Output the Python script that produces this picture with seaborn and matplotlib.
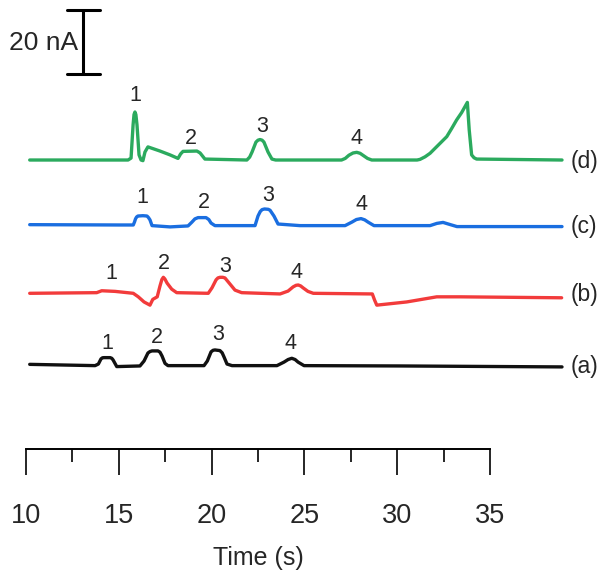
import matplotlib
matplotlib.use("Agg")
import matplotlib.pyplot as plt
import numpy as np
import pandas as pd
import seaborn as sns

# time (s) and current change (nA), relative to its baseline
time_d = [10.2, 15.5, 15.66, 15.77, 15.82, 15.87, 15.92, 15.98, 16.09, 16.2, 16.3, 16.41,
          16.57, 17.22, 17.76, 18.19, 18.33, 18.46, 19.21, 19.38, 19.64, 21.9, 22.05, 22.18,
          22.39, 22.5, 22.61, 22.72, 22.82, 23.04, 23.25, 23.45, 27.0, 27.2, 27.4, 27.62,
          27.82, 28.0, 28.2, 28.4, 28.63, 31.07, 31.23, 31.5, 31.77, 32.22, 32.67, 32.94,
          33.2, 33.47, 33.78, 33.88, 34.01, 34.14, 34.28, 38.88]
curr_d = [0, 0, 0.6, 11, 14.2, 15, 14.2, 11, 1.6, 0, -0.2, 2.5,
          4.1, 2.8, 1.6, 0.5, 1.9, 2.7, 2.8, 2.2, 0.3, 0, 0.9, 2.5,
          5.6, 6.2, 6.4, 6.2, 5.6, 2.5, 0.3, 0, 0, 0.5, 1.5, 2.2,
          2.4, 2.1, 1.3, 0.5, 0, 0, 0.2, 1.0, 2.1, 4.7, 7.3, 9.9,
          12.5, 14.8, 18, 9.4, 1.6, 0.7, 0.3, 0]

time_c = [10.2, 15.0, 15.78, 15.85, 15.9, 15.96, 16.03, 16.3, 16.52, 16.6, 16.68, 16.79,
          17.76, 18.73, 18.94, 19.1, 19.27, 19.7, 19.85, 19.97, 20.18, 22.34, 22.5, 22.62,
          22.72, 22.85, 23.05, 23.15, 23.36, 23.58, 24.76, 27.19, 27.56, 27.8, 28.05, 28.25,
          28.43, 28.75, 31.77, 32.14, 32.47, 32.84, 33.22, 38.88]
curr_c = [0.1, 0, 0, 1.0, 1.9, 2.5, 2.8, 2.9, 2.8, 2.3, 1.6, -0.2,
          -0.6, -0.3, 0.9, 1.9, 2.3, 2.3, 1.7, 0.6, -0.2, -0.2, 2.8, 4.2,
          4.8, 5.0, 4.9, 4.6, 2.8, 0.3, -0.2, -0.2, 0.9, 1.7, 2.0, 1.6,
          0.9, -0.2, -0.2, 0.5, 0.8, 0.15, -0.5, -0.5]

time_b = [10.2, 13.81, 14.08, 14.8, 15.78, 16.05, 16.36, 16.68, 16.83, 17.07, 17.22, 17.32,
          17.4, 17.48, 17.6, 17.85, 18.12, 19.82, 20.02, 20.24, 20.34, 20.45, 20.6, 20.72,
          20.99, 21.26, 21.62, 23.69, 24.12, 24.39, 24.55, 24.67, 24.8, 24.93, 25.19, 25.48,
          28.66, 28.78, 28.9, 30.51, 32.13, 33.38, 38.86]
curr_b = [-0.1, 0.1, 0.7, 0.5, -0.1, -1.2, -2.8, -3.8, -2.0, -1.2, 2.2, 4.2,
          4.9, 4.4, 3.1, 1.2, 0.1, -0.1, 1.6, 4.1, 4.7, 4.9, 4.9, 4.7,
          2.8, 0.9, 0.1, -0.3, 0.6, 1.9, 2.4, 2.5, 2.2, 1.6, 0.5, -0.1,
          -0.3, -2.2, -3.8, -2.8, -1.2, -1.2, -1.5]

time_a = [10.2, 13.72, 13.9, 14.04, 14.12, 14.2, 14.53, 14.62, 14.69, 14.89, 16.14, 16.36,
          16.57, 16.68, 16.79, 17.11, 17.22, 17.33, 17.49, 17.65, 19.59, 19.77, 19.97, 20.08,
          20.18, 20.45, 20.57, 20.67, 20.83, 21.1, 23.52, 23.9, 24.12, 24.32, 24.5, 24.66,
          24.98, 30.15, 38.88]
curr_a = [0.2, -0.2, 0.3, 1.9, 2.25, 2.3, 2.3, 2.1, 1.6, -0.5, -0.3, 1.25,
          3.75, 4.2, 4.4, 4.4, 4.0, 2.8, 0.5, -0.2, -0.2, 1.25, 4.1, 4.6,
          4.7, 4.5, 3.8, 2.5, 0.3, -0.2, -0.2, 0.9, 1.7, 2.1, 1.7, 0.9,
          -0.2, -0.3, -0.6]

trace_names = ["(a)", "(b)", "(c)", "(d)"]
trace_offsets = [26.25, 48.75, 70.0, 90.3]
trace_colors = ["#111111", "#F23B3B", "#1A6EE0", "#2BAA5E"]

# peak number labels: (time, current) for each trace, peaks 1..4
label_time = {
    "(a)": [14.38, 17.04, 20.36, 24.26],
    "(b)": [14.58, 17.44, 20.72, 24.55],
    "(c)": [16.28, 19.59, 23.04, 28.05],
    "(d)": [15.87, 18.89, 22.72, 27.83],
}
label_curr = {
    "(a)": [33.0, 34.8, 35.9, 33.0],
    "(b)": [54.7, 58.0, 57.0, 55.3],
    "(c)": [78.6, 77.0, 79.3, 76.25],
    "(d)": [110.6, 96.9, 100.9, 96.9],
}

frames = []
for name, t, c, off in zip(trace_names, [time_a, time_b, time_c, time_d],
                           [curr_a, curr_b, curr_c, curr_d], trace_offsets):
    frames.append(pd.DataFrame({"time": t, "signal": np.array(c) + off, "trace": name}))
df = pd.concat(frames, ignore_index=True)

sns.set_theme(style="white")
plt.rcParams["font.family"] = ["Liberation Sans", "DejaVu Sans"]

fig = plt.figure(figsize=(6.0, 5.81), dpi=100)
ax = fig.add_axes([26 / 600, 1 - 449 / 581, 464 / 600, 449 / 581])

for name, color in zip(trace_names, trace_colors):
    sns.lineplot(data=df[df["trace"] == name], x="time", y="signal", color=color,
                 linewidth=2.4, estimator=None, sort=False, ax=ax, legend=False)
for line in ax.get_lines():
    line.set_clip_on(False)
    line.set_solid_joinstyle("round")
    line.set_solid_capstyle("round")

for name, off in zip(trace_names, trace_offsets):
    ax.text(39.35, off - 0.6, name, ha="left", va="center", fontsize=16.5, clip_on=False)
    for i, (lt, lc) in enumerate(zip(label_time[name], label_curr[name])):
        ax.text(lt, lc, str(i + 1), ha="center", va="center", fontsize=15.5)

# 20 nA scale bar
ax.plot([13.07, 13.07], [117.2, 137.2], color="black", lw=2.2, clip_on=False)
ax.plot([12.21, 13.99], [137.2, 137.2], color="black", lw=2.2, clip_on=False)
ax.plot([12.21, 13.99], [117.2, 117.2], color="black", lw=2.2, clip_on=False)
ax.text(12.8, 126.9, "20 nA", ha="right", va="center", fontsize=19)

ax.set_xlim(10, 35)
ax.set_ylim(0, 140.3)
for side in ["top", "right", "left"]:
    ax.spines[side].set_visible(False)
ax.spines["bottom"].set_color("black")
ax.spines["bottom"].set_linewidth(1.4)
ax.set_yticks([])
ax.set_xticks([10, 15, 20, 25, 30, 35])
ax.set_xticks([12.5, 17.5, 22.5, 27.5, 32.5], minor=True)
ax.tick_params(axis="x", which="major", direction="out", length=19, width=1.4,
               pad=20, labelsize=19.5, bottom=True)
ax.tick_params(axis="x", which="minor", direction="out", length=9.5, width=1.4, bottom=True)
ax.set_xlabel("Time (s)", fontsize=18, labelpad=12)
ax.set_ylabel("")
ax.patch.set_alpha(0)

fig.savefig("out.png", dpi=100)
